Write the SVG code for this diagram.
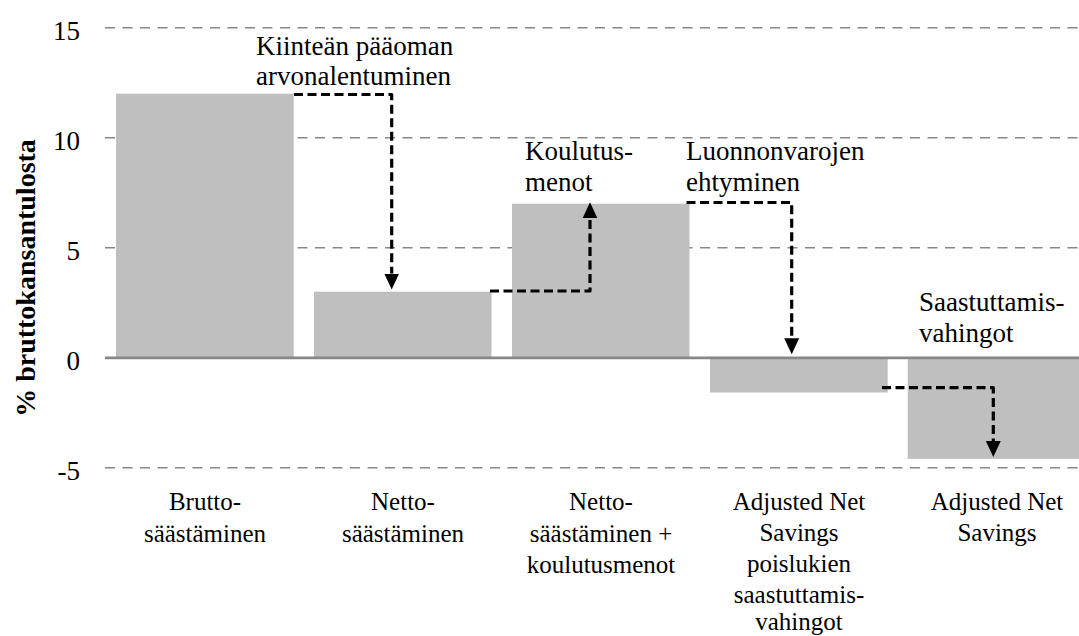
<svg xmlns="http://www.w3.org/2000/svg" width="1079" height="636" viewBox="0 0 1079 636">
<style>
.grid{stroke:#878787;stroke-width:1.6;stroke-dasharray:10 7.5;fill:none}
.axis{stroke:#878787;stroke-width:2.6;fill:none}
.bar{fill:#bfbfbf}
.tick{font-family:"Liberation Serif","Times New Roman",serif;font-size:27px;fill:#000;text-anchor:end}
.ann{font-family:"Liberation Serif","Times New Roman",serif;font-size:27px;fill:#000}
.cat{font-family:"Liberation Serif","Times New Roman",serif;font-size:25px;fill:#000;text-anchor:middle}
.ytitle{font-family:"Liberation Serif","Times New Roman",serif;font-size:28px;font-weight:bold;fill:#000;text-anchor:middle}
.conn{stroke:#000;stroke-width:3.2;stroke-dasharray:9 4.5;fill:none;stroke-linejoin:round;marker-end:url(#arr)}
</style>
<defs>
<marker id="arr" markerUnits="userSpaceOnUse" markerWidth="16" markerHeight="16" viewBox="0 0 15 14" refX="0" refY="7" orient="auto">
<path d="M0,0 L15,7 L0,14 Z" fill="#000"/>
</marker>
</defs>
<rect width="1079" height="636" fill="#fff"/>
<g id="gridlines">
<line class="grid" x1="105" y1="27.7" x2="1079" y2="27.7"/>
<line class="grid" x1="105" y1="137.7" x2="1079" y2="137.7"/>
<line class="grid" x1="105" y1="247.7" x2="1079" y2="247.7"/>
<line class="grid" x1="105" y1="467.7" x2="1079" y2="467.7"/>
</g>
<g id="y-axis-labels">
<text class="tick" x="80" y="39.7">15</text>
<text class="tick" x="80" y="149.7">10</text>
<text class="tick" x="80" y="259.7">5</text>
<text class="tick" x="80" y="369.7">0</text>
<text class="tick" x="80" y="479.7">-5</text>
<text class="ytitle" transform="translate(35 278) rotate(-90)">% bruttokansantulosta</text>
</g>
<g id="bar-brutto">
<rect class="bar" x="116" y="93.7" width="177.7" height="264"/>
<text class="cat" x="205" y="510">Brutto-</text>
<text class="cat" x="205" y="541.5">säästäminen</text>
</g>
<g id="bar-netto">
<rect class="bar" x="314" y="291.7" width="177.5" height="66"/>
<text class="cat" x="403" y="510">Netto-</text>
<text class="cat" x="403" y="541.5">säästäminen</text>
</g>
<g id="bar-netto-koulutus">
<rect class="bar" x="512" y="203.7" width="177.5" height="154"/>
<text class="cat" x="601" y="510">Netto-</text>
<text class="cat" x="601" y="541.5">säästäminen +</text>
<text class="cat" x="601" y="573">koulutusmenot</text>
</g>
<g id="bar-ans-ex">
<rect class="bar" x="710" y="357.7" width="177.7" height="34.8"/>
<text class="cat" x="799" y="510">Adjusted Net</text>
<text class="cat" x="799" y="541">Savings</text>
<text class="cat" x="799" y="572">poislukien</text>
<text class="cat" x="799" y="603">saastuttamis-</text>
<text class="cat" x="799" y="630">vahingot</text>
</g>
<g id="bar-ans">
<rect class="bar" x="907.7" y="357.7" width="177.7" height="101.2"/>
<text class="cat" x="997" y="510">Adjusted Net</text>
<text class="cat" x="997" y="541">Savings</text>
</g>
<g id="zero-axis">
<line class="axis" x1="105" y1="357.9" x2="1079" y2="357.9"/>
</g>
<g id="annotation-kiintea">
<text class="ann" x="256" y="55">Kiinteän pääoman</text>
<text class="ann" x="256" y="85">arvonalentuminen</text>
</g>
<g id="annotation-koulutus">
<text class="ann" x="525" y="160">Koulutus-</text>
<text class="ann" x="525" y="190.5">menot</text>
</g>
<g id="annotation-luonnon">
<text class="ann" x="686" y="160">Luonnonvarojen</text>
<text class="ann" x="686" y="190.5">ehtyminen</text>
</g>
<g id="annotation-saastutus">
<text class="ann" x="919" y="311">Saastuttamis-</text>
<text class="ann" x="919" y="342">vahingot</text>
</g>
<g id="connectors">
<path class="conn" d="M294,94.5 H391.7 V273.5"/>
<path class="conn" d="M490,291 H590 V218.3"/>
<path class="conn" d="M686.5,202.5 H791.7 V338.3"/>
<path class="conn" d="M882,387.7 H993.3 V441"/>
</g>
</svg>
